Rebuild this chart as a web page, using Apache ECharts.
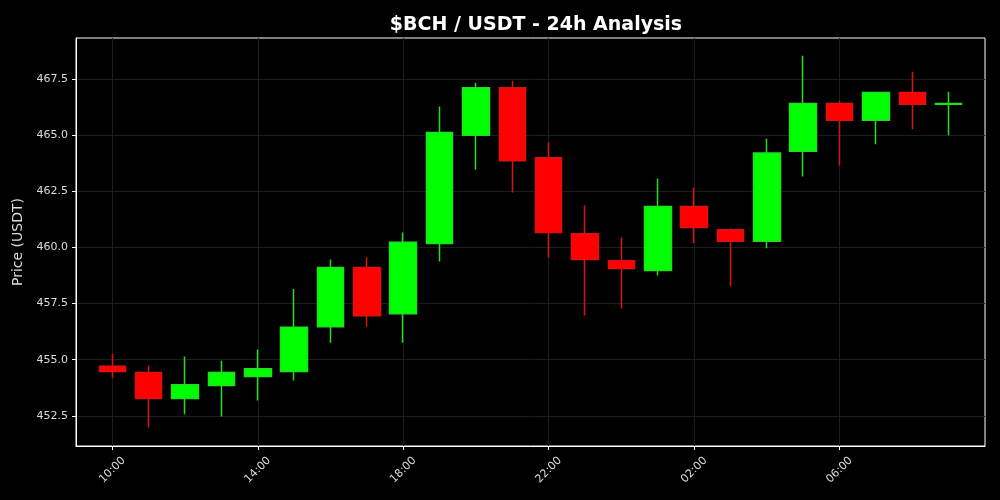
<!DOCTYPE html>
<html>
<head>
<meta charset="utf-8">
<script src="https://cdn.jsdelivr.net/npm/echarts@6/dist/echarts.min.js"></script>
<style>
  html, body { margin: 0; padding: 0; background: #000; }
  #chart { width: 1000px; height: 500px; }
</style>
</head>
<body>
<div id="chart"></div>
<script>
// hourly candles, 10:00 -> 09:00
const hours = ['10:00', '11:00', '12:00', '13:00', '14:00', '15:00', '16:00', '17:00',
  '18:00', '19:00', '20:00', '21:00', '22:00', '23:00', '00:00', '01:00',
  '02:00', '03:00', '04:00', '05:00', '06:00', '07:00', '08:00', '09:00']
const openPrice = [454.71, 454.43, 453.27, 453.85, 454.25, 454.48, 456.47, 459.10,
  457.05, 460.17, 464.99, 467.11, 463.99, 460.61, 459.41, 458.97,
  461.82, 460.79, 460.27, 464.28, 466.40, 465.66, 466.89, 466.37]
const closePrice = [454.48, 453.27, 453.89, 454.43, 454.60, 456.44, 459.10, 456.96,
  460.23, 465.11, 467.11, 463.86, 460.66, 459.46, 459.06, 461.82,
  460.89, 460.27, 464.20, 466.40, 465.66, 466.89, 466.37, 466.40]
const lowPrice = [454.17, 451.98, 452.57, 452.47, 453.18, 454.07, 455.76, 456.47,
  455.76, 459.37, 463.46, 462.44, 459.55, 456.97, 457.28, 458.75,
  460.18, 458.27, 459.96, 463.16, 463.65, 464.59, 465.26, 464.99]
const highPrice = [455.27, 454.74, 455.14, 454.96, 455.45, 458.15, 459.46, 459.55,
  460.66, 466.27, 467.33, 467.42, 464.67, 461.86, 460.44, 463.07,
  462.66, 460.84, 464.84, 468.53, 466.53, 466.93, 467.82, 466.93]
const priceTicks = [452.5, 455, 457.5, 460, 462.5, 465, 467.5]
const labelHours = ['10:00', '14:00', '18:00', '22:00', '02:00', '06:00']

// one empty slot on each side so candles sit off the frame edges
const categories = [''].concat(hours, [''])
const candles = ['-'].concat(hours.map((h, i) => [openPrice[i], closePrice[i], lowPrice[i], highPrice[i]]), ['-'])

const showHour = (idx, value) => labelHours.indexOf(value) !== -1

const chart = echarts.init(document.getElementById('chart'))
const option = {
  backgroundColor: '#000',
  animation: false,
  title: {
    text: '$BCH / USDT - 24h Analysis',
    left: 531,
    top: 11,
    textAlign: 'center',
    textStyle: {
      color: '#fff',
      fontSize: 19,
      fontWeight: 'bold',
      fontFamily: 'DejaVu Sans'
    }
  },
  grid: {
    left: 76,
    right: 15,
    top: 38,
    bottom: 54,
    show: true,
    borderColor: '#fff',
    borderWidth: 1
  },
  xAxis: {
    type: 'category',
    data: categories,
    boundaryGap: false,
    axisLine: { lineStyle: { color: '#fff', width: 1 } },
    axisTick: {
      interval: showHour,
      length: 4,
      lineStyle: { color: '#fff' }
    },
    axisLabel: {
      interval: showHour,
      rotate: 45,
      align: 'center',
      verticalAlign: 'middle',
      color: '#ddd',
      fontSize: 11,
      fontFamily: 'DejaVu Sans',
      margin: 24
    },
    splitLine: {
      show: true,
      interval: showHour,
      lineStyle: { color: '#1c1c1c', width: 1 }
    }
  },
  yAxis: {
    type: 'value',
    min: 451.16,
    max: 469.32,
    name: 'Price (USDT)',
    nameLocation: 'middle',
    nameGap: 47,
    nameTextStyle: {
      color: '#ddd',
      fontSize: 14,
      fontFamily: 'DejaVu Sans'
    },
    axisLine: { show: true, lineStyle: { color: '#fff', width: 1 } },
    axisTick: {
      show: true,
      length: 4,
      customValues: priceTicks,
      lineStyle: { color: '#fff' }
    },
    axisLabel: {
      customValues: priceTicks,
      color: '#ddd',
      fontSize: 11,
      fontFamily: 'DejaVu Sans',
      margin: 8,
      formatter: v => v.toFixed(1)
    },
    splitLine: {
      show: true,
      lineStyle: { color: '#1c1c1c', width: 1 }
    }
  },
  series: [{
    type: 'candlestick',
    data: candles,
    barWidth: 27,
    itemStyle: {
      color: '#00ff00',
      color0: '#ff0000',
      borderColor: '#22dd22',
      borderColor0: '#dd1111',
      borderWidth: 1.5
    }
  }]
}
chart.setOption(option)
</script>
</body>
</html>
